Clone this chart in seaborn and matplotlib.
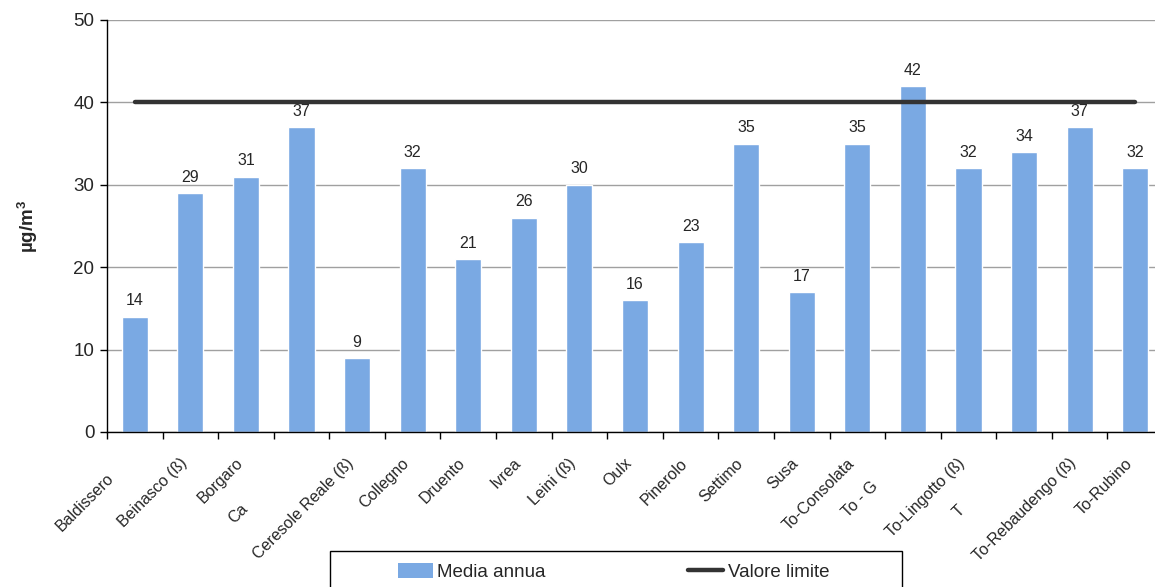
import matplotlib
matplotlib.use("Agg")
import matplotlib.pyplot as plt
import matplotlib.transforms as mtransforms
import numpy as np
import pandas as pd
import seaborn as sns
from matplotlib.patches import Patch, Rectangle
from matplotlib.lines import Line2D

stazioni = ["Baldissero", "Beinasco (ß)", "Borgaro", "Ca", "Ceresole Reale (ß)",
            "Collegno", "Druento", "Ivrea", "Leini (ß)", "Oulx", "Pinerolo",
            "Settimo", "Susa", "To-Consolata", "To - G", "To-Lingotto (ß)", "T",
            "To-Rebaudengo (ß)", "To-Rubino"]
media_annua = [14, 29, 31, 37, 9, 32, 21, 26, 30, 16, 23, 35, 17, 35, 42, 32, 34, 37, 32]
valore_limite = 40
y_ticks = [0, 10, 20, 30, 40, 50]

bar_color = "#7AA9E3"
line_color = "#333333"

# clipped labels in the original sit lower-left of the others (pixels)
label_shift = {"Baldissero": (-18, 15), "Ca": (-50, 45), "To - G": (-31, 23), "T": (-56, 47)}

sns.set_style("white")
plt.rcParams["font.family"] = ["Liberation Sans", "DejaVu Sans"]

df = pd.DataFrame({"stazione": stazioni, "media": media_annua})

W, H = 1155, 587
fig = plt.figure(figsize=(W / 100, H / 100), dpi=100)
ax = fig.add_axes([107 / W, 1 - 432 / H, 1056 / W, 412 / H])

sns.barplot(data=df, x="stazione", y="media", color=bar_color, width=0.47,
            saturation=1, ax=ax, zorder=2)
ax.bar_label(ax.containers[0], fmt="%d", padding=6, fontsize=11.5)

xs = np.arange(len(stazioni))
ax.plot(xs, [valore_limite] * len(stazioni), color=line_color, lw=3.2,
        solid_capstyle="round", zorder=3)

ax.set_xlim(-0.5, len(stazioni) - 0.5)
ax.set_ylim(0, 50)
ax.set_yticks(y_ticks)
ax.yaxis.grid(True, color="#a0a0a0", lw=1)
ax.set_axisbelow(True)

for s in ["top", "right"]:
    ax.spines[s].set_visible(False)
for s in ["left", "bottom"]:
    ax.spines[s].set_color("black")
    ax.spines[s].set_linewidth(1)

ax.tick_params(axis="y", left=True, length=5, width=1, color="black",
               labelsize=13.5, pad=4)
ax.set_xticks(xs)
ax.set_xticklabels(stazioni, rotation=45, ha="right", va="top",
                   rotation_mode="anchor", fontsize=11.5)
ax.tick_params(axis="x", which="major", bottom=False, length=0, pad=17)
ax.set_xticks(np.arange(len(stazioni) + 1) - 0.5, minor=True)
ax.tick_params(axis="x", which="minor", bottom=True, length=5, width=1,
               color="black")
for lab in ax.get_xticklabels():
    dx, dy = label_shift.get(lab.get_text(), (0, 0))
    shift = mtransforms.ScaledTranslation((dx - 11) / 100, -dy / 100, fig.dpi_scale_trans)
    lab.set_transform(lab.get_transform() + shift)

ax.set_xlabel("")
ax.set_ylabel("µg/m$^\\mathregular{3}$", fontsize=13.5, fontweight="bold", labelpad=24)

# legend box (extends below the picture as in the original)
fig.patches.append(Rectangle((330 / W, -0.05), (902 - 330) / W, 0.05 + 1 - 551 / H,
                             transform=fig.transFigure, facecolor="white",
                             edgecolor="black", lw=1, zorder=5))
handles = [Patch(facecolor=bar_color, edgecolor="none"),
           Line2D([], [], color=line_color, lw=3.2, solid_capstyle="round")]
leg = fig.legend(handles, ["Media annua", "Valore limite"], ncol=2,
                 loc="center left", bbox_to_anchor=(398 / W, 1 - 572 / H),
                 frameon=False, fontsize=13.5, handlelength=1.85,
                 handleheight=0.8, handletextpad=0.25, columnspacing=7.6,
                 borderpad=0, borderaxespad=0)
leg.set_zorder(6)

fig.savefig("out.png", dpi=100)
